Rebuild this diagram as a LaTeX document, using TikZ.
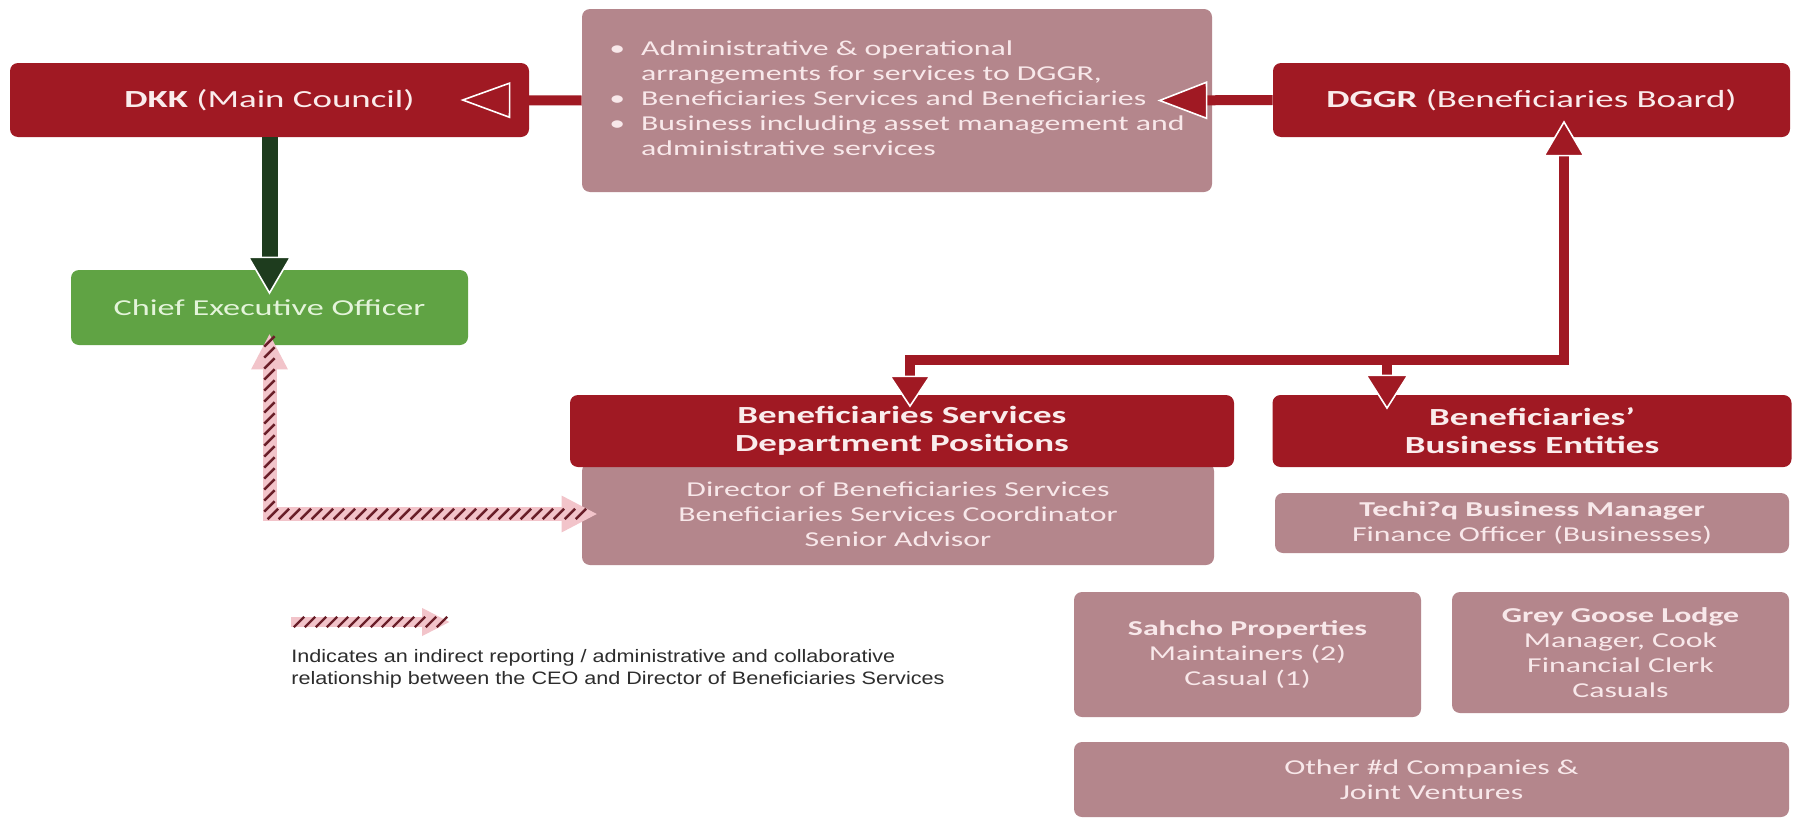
\documentclass[tikz,border=0pt]{standalone}
\usepackage{fontspec}
\setmainfont{Carlito}[FakeStretch=1.5]
\newfontfamily\legendfont{Liberation Sans}[FakeStretch=1.2]
\usetikzlibrary{arrows.meta,calc,decorations.markings}

\definecolor{boxred}{RGB}{160,25,35}
\definecolor{boxmauve}{RGB}{180,134,140}
\definecolor{ceogreen}{RGB}{96,163,68}
\definecolor{arrowgreen}{RGB}{30,60,30}
\definecolor{redtext}{RGB}{250,236,236}
\definecolor{mauvetext}{RGB}{248,232,234}
\definecolor{ceotext}{RGB}{228,244,218}
\definecolor{hatchpink}{RGB}{242,196,202}
\definecolor{hatchdark}{RGB}{105,30,40}
\definecolor{legendgray}{RGB}{45,45,45}

\tikzset{
  hatch tip/.tip={Triangle[width=17pt,length=18pt]},
  small hatch tip/.tip={Triangle[width=13pt,length=14pt]}
}

\begin{document}
\begin{tikzpicture}[x=0.5pt,y=-0.5pt,
    redbox/.style={fill=boxred, text=redtext, rounded corners=4pt, align=center, inner sep=0pt, font=\fontsize{12.3}{14}\selectfont},
    mauvebox/.style={fill=boxmauve, text=mauvetext, rounded corners=4pt, align=center, inner sep=0pt, font=\fontsize{10.6}{12.5}\selectfont},
    ceobox/.style={fill=ceogreen, text=ceotext, rounded corners=4pt, inner sep=0pt, font=\fontsize{11.4}{13}\selectfont},
    redline/.style={draw=boxred, line width=5pt},
    greenline/.style={draw=arrowgreen, line width=8pt},
    hatchline/.style={draw=hatchpink, line width=7pt,
      postaction={decorate, decoration={markings,
        mark=between positions 4pt and -4pt step 5.5pt with {\pgftransformresetnontranslations
          \draw[-, hatchdark, line width=1.2pt] (-2.6pt,-2.6pt) -- (2.6pt,2.6pt);}}}}
  ]

    \path[use as bounding box, fill=white] (0,0) rectangle (1800,819);

    % top row
    \draw (269.5,100)  node [redbox, minimum width=259.5pt, minimum height=37pt] (dkk)  {\textbf{DKK} (Main Council)};
    \draw (897,100.5)  node [mauvebox, align=left, minimum width=315pt, minimum height=91.5pt] (info) {%
      \begin{tabular}{@{}l@{\hspace{8pt}}l@{}}
      \textbullet & Administrative \& operational\\
                  & arrangements for services to DGGR,\\
      \textbullet & Beneficiaries Services and Beneficiaries\\
      \textbullet & Business including asset management and\\
                  & administrative services
      \end{tabular}};
    \draw (1531.5,100) node [redbox, minimum width=258.5pt, minimum height=37pt] (dggr) {\textbf{DGGR} (Beneficiaries Board)};
    \draw (269.5,307.5) node [ceobox, minimum width=198.5pt, minimum height=37.5pt] (ceo) {Chief Executive Officer};

    % departments
    \draw (898,514)  node [mauvebox, minimum width=316pt, minimum height=51pt] (bsdbody) {Director of Beneficiaries Services\\Beneficiaries Services Coordinator\\Senior Advisor};
    \draw (902,431)  node [redbox, font=\fontsize{12.3}{14}\selectfont\bfseries, minimum width=332pt, minimum height=36pt] (bsd) {Beneficiaries Services\\Department Positions};
    \draw (1532,431) node [redbox, font=\fontsize{12.3}{14}\selectfont\bfseries, minimum width=259.5pt, minimum height=36pt] (bbe) {Beneficiaries’\\Business Entities};
    \draw (1532,523) node [mauvebox, minimum width=257pt, minimum height=30pt] (techi) {\textbf{Techi?q Business Manager}\\Finance Officer (Businesses)};
    \draw (1247.5,654.5) node [mauvebox, minimum width=173.5pt, minimum height=62.5pt] (sahcho) {\textbf{Sahcho Properties}\\Maintainers (2)\\Casual (1)};
    \draw (1620.5,652.5) node [mauvebox, minimum width=168.5pt, minimum height=60.5pt] (grey) {\textbf{Grey Goose Lodge}\\Manager, Cook\\Financial Clerk\\Casuals};
    \draw (1431.5,779.5) node [mauvebox, minimum width=357.5pt, minimum height=37.5pt] (other) {Other \#d Companies \&\\Joint Ventures};

    % legend
    \coordinate (legA) at (291,622);
    \coordinate (legB) at (450,622);
    \draw (291,669) node [anchor=west, inner sep=0pt, align=left, text=legendgray, font=\legendfont\fontsize{9}{11}\selectfont] (legtext) {Indicates an indirect reporting / administrative and collaborative\\relationship between the CEO and Director of Beneficiaries Services};

    % connectors
    \coordinate (jn) at (1564,360);
    \coordinate (jb) at (1387,360);
    \draw[redline, -{Triangle[color=white, fill=boxred, line width=0.8pt, width=18pt, length=25pt]}] (info.west) -- ($(dkk.east)+(-69,0)$);
    \draw[redline, -{Triangle[color=white, fill=boxred, line width=0.8pt, width=19pt, length=25pt]}] (dggr.west) -- ($(info.east)+(-55,0)$);
    \draw[greenline, -{Triangle[color=white, fill=arrowgreen, line width=0.8pt, width=22pt, length=19pt]}] (dkk.south) -- ($(ceo.north)+(0,25)$);
    \draw[redline, {Triangle[color=white, fill=boxred, line width=0.8pt, width=21pt, length=16pt]}-{Triangle[color=white, fill=boxred, line width=0.8pt, width=21pt, length=18pt]}]
        ($(bsd.north)+(8,13)$) |- (jn) -- ($(dggr.south -| jn)+(0,-17)$);
    \draw[redline, -{Triangle[color=white, fill=boxred, line width=0.8pt, width=22pt, length=17.5pt]}] (jb) -- ($(bbe.north -| jb)+(0,15)$);
    \draw[hatchline, {hatch tip}-{hatch tip}] ($(ceo.south)+(0,-12)$) |- ($(bsdbody.west)+(16,0)$);
    \draw[hatchline, line width=5pt, -{small hatch tip}] (legA) -- (legB);

\end{tikzpicture}
\end{document}
